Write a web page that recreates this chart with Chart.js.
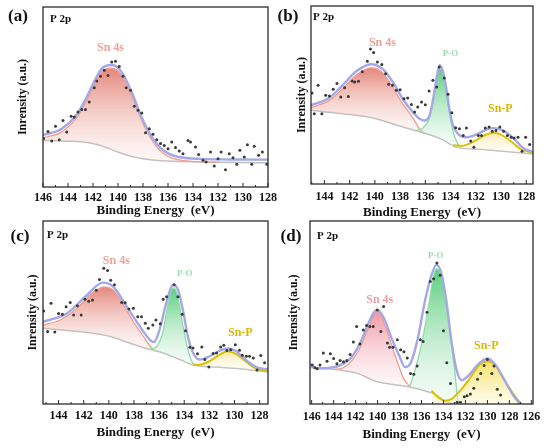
<!DOCTYPE html>
<html>
<head>
<meta charset="utf-8">
<script src="https://cdn.jsdelivr.net/npm/chart.js@4.4.1/dist/chart.umd.min.js"></script>
<style>
  html, body { margin: 0; padding: 0; background: #fff; }
  body { width: 550px; height: 448px; position: relative; overflow: hidden; }
  canvas { position: absolute; }
</style>
</head>
<body>
<canvas id="pa" width="290" height="226" style="left:0;top:0;width:290px;height:226px"></canvas>
<canvas id="pb" width="285" height="224" style="left:265px;top:0;width:285px;height:224px"></canvas>
<canvas id="pc" width="290" height="234" style="left:0;top:214px;width:290px;height:234px"></canvas>
<canvas id="pd" width="285" height="234" style="left:265px;top:214px;width:285px;height:234px"></canvas>
<script>
// binding energy (eV), intensity (0 = frame bottom, 100 = frame top)
const aTicks = [146, 144, 142, 140, 138, 136, 134, 132, 130, 128];
const bTicks = [144, 142, 140, 138, 136, 134, 132, 130, 128];
const cTicks = [144, 142, 140, 138, 136, 134, 132, 130, 128];
const dTicks = [146, 144, 142, 140, 138, 136, 134, 132, 130, 128, 126];

// (a)
const aDots = [[145.95,26.9],[145.6,30.9],[145.3,25.6],[145.0,33.7],[144.7,26.3],[144.4,37.0],[144.1,30.6],[143.75,39.3],[143.5,38.9],[143.2,41.7],[142.9,43.1],[142.6,43.1],[142.3,47.2],[141.9,55.2],[141.7,58.9],[141.4,61.5],[141.1,64.8],[140.8,62.0],[140.5,69.4],[140.2,69.8],[139.9,67.0],[139.6,61.5],[139.35,55.2],[139.0,53.7],[138.7,44.8],[138.4,42.6],[138.1,41.1],[137.8,30.2],[137.5,32.4],[137.2,29.3],[136.9,26.3],[136.6,24.1],[136.3,23.1],[136.0,21.3],[135.7,25.0],[135.4,21.9],[135.1,20.0],[134.8,18.5],[134.4,25.9],[134.2,25.0],[133.8,22.2],[133.55,18.1],[133.2,14.8],[132.95,13.9],[132.6,19.4],[132.3,11.7],[132.0,15.7],[131.75,19.4],[131.4,9.6],[131.1,18.5],[130.8,16.3],[130.5,12.6],[130.25,20.4],[129.9,16.7],[129.65,23.5],[129.3,12.6],[129.1,22.6],[128.75,17.6],[128.45,19.4],[128.1,12.6]];
const aBg = [[146,25.9],[144.5,25.5],[142.7,25.0],[141.4,23.1],[140.7,21.3],[140.0,19.4],[139.3,17.8],[138.7,16.7],[137.4,15.2],[136.0,14.4],[133.3,13.9],[130,13.6],[128,13.5]];
const aSn4s = [[146,27.4],[144.6,30.2],[143.3,38.5],[142.5,48.1],[141.8,58.3],[141.3,64.0],[140.6,66.0],[140.05,64.8],[139.5,59.6],[138.85,50.0],[138.2,38.5],[137.5,28.5],[136.8,21.5],[136.0,17.0],[135.0,14.9],[133.35,14.0],[132.0,13.7]];
const aFit = [[146,28.9],[144.6,32.0],[143.3,40.3],[142.5,50.0],[141.8,60.0],[141.3,65.8],[140.6,67.8],[140.05,66.6],[139.5,61.4],[138.85,51.8],[138.2,40.2],[137.5,30.2],[136.8,23.2],[136.0,18.7],[135.0,16.5],[133.35,15.6],[131,15.3],[128,15.2]];

// (b)
const bDots = [[144.98,51.1],[144.8,39.5],[144.5,55.5],[144.2,39.5],[143.9,49.8],[143.6,49.4],[143.3,53.2],[143.0,56.4],[142.7,48.9],[142.4,54.1],[142.1,49.2],[141.8,57.9],[141.6,57.3],[141.3,57.7],[141.0,63.0],[140.6,69.0],[140.35,75.8],[140.1,73.9],[139.8,68.6],[139.45,67.1],[139.15,62.0],[138.9,56.0],[138.6,55.5],[138.3,52.6],[138.0,53.0],[137.7,47.9],[137.4,48.3],[137.1,44.7],[136.85,40.4],[136.6,43.2],[136.3,46.1],[136.0,44.5],[135.7,52.3],[135.4,58.3],[135.1,54.5],[134.9,65.8],[134.5,59.6],[134.2,50.4],[133.9,40.0],[133.6,31.6],[133.3,31.0],[133.0,27.3],[132.75,31.4],[132.4,24.1],[132.15,20.7],[131.8,27.3],[131.55,27.3],[131.25,31.4],[130.95,32.0],[130.7,29.7],[130.4,30.1],[130.1,32.0],[129.8,29.7],[129.5,27.3],[129.2,26.3],[128.97,25.8],[128.66,26.3],[128.34,18.4],[128.05,26.3],[127.73,22.2]];
const bBg = [[145.06,41.4],[142.55,39.5],[139.9,36.7],[138.6,33.8],[137.25,31.0],[135.9,28.2],[134.6,24.8],[133.55,20.7],[131.96,19.7],[129.85,18.4],[127.47,16.9]];
const bSn4s = [[145.06,42.9],[143.6,47.0],[142.55,53.6],[141.5,61.1],[140.7,64.5],[140.3,65.2],[139.77,64.5],[139.37,62.4],[138.58,54.5],[137.8,45.1],[136.99,37.2],[136.46,31.0],[136.06,28.5]];
const bPO = [[136.86,29.9],[136.2,31.5],[135.7,36.5],[135.4,46.0],[135.14,57.0],[134.87,64.8],[134.6,61.5],[134.34,52.0],[134.08,39.5],[133.81,29.5],[133.5,23.5],[133.25,20.6]];
const bSnP = [[133.81,21.8],[133.1,21.5],[132.4,23.0],[131.7,25.8],[131.17,27.8],[130.64,28.8],[130.1,28.0],[129.6,26.0],[129.05,23.0],[128.5,19.8],[127.47,17.4]];
const bFit = [[145.06,44.2],[143.6,48.5],[142.55,55.5],[141.5,63.2],[140.3,67.3],[139.37,64.5],[138.58,57.3],[137.8,47.9],[136.99,40.4],[136.46,36.7],[136.06,35.7],[135.67,38.5],[135.4,47.0],[135.14,58.3],[134.87,66.7],[134.6,63.0],[134.34,53.6],[134.08,41.4],[133.81,32.9],[133.42,28.2],[132.75,26.3],[131.96,27.8],[131.17,30.6],[130.64,31.4],[129.85,30.1],[129.05,25.9],[128.26,20.3],[127.47,17.9]];

// (c)
const cDots = [[145.19,50.8],[144.87,39.6],[144.6,55.0],[144.3,39.3],[144.0,49.5],[143.7,49.0],[143.4,53.2],[143.07,55.5],[142.8,48.6],[142.5,53.7],[142.2,48.6],[141.9,57.3],[141.6,56.2],[141.3,56.8],[141.0,62.2],[140.75,68.1],[140.4,74.2],[140.1,73.0],[139.85,67.6],[139.55,65.2],[138.97,55.5],[138.7,55.3],[138.4,51.9],[138.05,52.3],[137.7,47.7],[137.4,47.7],[137.1,44.1],[136.86,41.4],[136.5,43.2],[136.25,45.9],[135.9,43.8],[135.67,57.3],[135.4,58.6],[134.8,65.2],[134.5,58.6],[134.16,49.0],[133.9,40.0],[133.55,31.0],[133.3,30.6],[132.94,27.4],[132.6,31.2],[132.36,24.3],[132.04,20.2],[131.7,27.6],[131.43,27.9],[131.1,31.2],[130.85,32.1],[130.6,29.2],[130.3,29.7],[129.93,32.4],[129.6,29.4],[129.37,26.7],[129.05,26.1],[128.8,26.1],[128.5,25.2],[128.2,18.6],[127.9,26.5],[127.6,22.5]];
const cBg = [[145.24,41.4],[142.0,39.3],[139.9,36.9],[138.58,33.9],[137.0,30.3],[135.67,27.9],[134.34,24.3],[133.28,21.3],[131.43,20.2],[129.58,19.3],[127.33,17.5]];
const cSn4s = [[145.24,43.2],[143.87,45.9],[142.55,52.3],[141.49,59.8],[140.69,63.4],[140.43,64.0],[139.63,62.2],[138.84,54.1],[138.05,45.0],[137.25,36.9],[136.59,30.6],[136.33,29.1]];
const cPO = [[136.73,29.9],[136.2,31.3],[135.93,34.5],[135.67,40.0],[135.4,50.5],[135.14,59.5],[134.87,63.4],[134.6,61.0],[134.34,52.5],[134.08,42.0],[133.68,29.0],[133.29,22.0],[133.0,21.0]];
const cSnP = [[133.29,21.4],[132.76,21.5],[131.96,23.5],[131.17,27.0],[130.56,28.8],[129.85,27.3],[129.05,23.0],[128.26,19.2],[127.33,18.0]];
const cFit = [[145.24,44.9],[143.34,49.5],[141.75,59.5],[140.48,66.3],[139.63,64.0],[138.58,53.2],[137.52,42.3],[136.73,35.1],[136.4,33.9],[135.93,41.4],[135.4,55.9],[134.87,65.2],[134.48,62.2],[134.08,50.5],[133.68,36.0],[133.29,27.9],[132.76,24.3],[131.96,26.1],[131.17,29.2],[130.5,30.3],[129.85,28.8],[129.05,23.8],[128.26,20.2],[127.33,18.9]];

// (d)
const dDots = [[145.94,21.3],[145.7,19.8],[145.5,19.3],[145.24,21.3],[144.94,27.9],[144.6,23.4],[144.3,27.4],[144.0,24.9],[143.7,22.0],[143.4,23.8],[143.1,23.1],[142.8,23.8],[142.5,27.0],[142.2,33.9],[141.9,42.3],[141.6,32.8],[141.3,40.5],[141.0,42.9],[140.7,42.3],[140.4,42.3],[140.03,51.4],[139.7,39.6],[139.45,53.3],[139.1,33.3],[138.9,31.0],[138.6,31.0],[138.2,35.1],[137.9,29.7],[137.6,28.5],[137.3,25.2],[137.0,16.6],[136.7,16.2],[136.4,20.7],[136.1,35.1],[135.85,34.2],[135.5,50.1],[135.2,67.0],[134.9,68.5],[134.6,77.1],[134.3,70.3],[134.0,40.0],[133.7,22.5],[133.36,11.2],[132.76,0.9],[132.45,0.9],[132.1,4.0],[131.85,4.5],[131.55,5.4],[131.24,8.6],[130.9,13.5],[130.6,16.6],[130.3,21.1],[130.0,24.3],[129.6,16.6],[129.4,20.7],[129.1,8.1],[128.8,4.9]];
const dBg = [[146.15,19.8],[144.79,19.3],[143.27,18.4],[141.76,16.6],[140.24,12.6],[138.73,10.8],[137.21,9.4],[135.7,7.2],[134.79,5.4],[133.88,1.8],[132.97,0.0],[132.06,-0.9]];
const dSn4s = [[143.88,18.9],[143.27,19.5],[142.67,21.6],[141.76,28.8],[140.85,41.4],[140.24,49.5],[140.09,50.1],[139.79,49.5],[139.33,43.2],[138.73,32.4],[138.12,21.6],[137.67,14.4],[137.21,10.5],[137.06,9.5]];
const dPO = [[137.06,9.5],[136.61,18.0],[136.0,32.4],[135.39,52.3],[134.94,68.5],[134.64,73.9],[134.18,69.4],[133.73,54.1],[133.27,32.4],[132.97,18.0],[132.73,3.6],[132.6,-0.9]];
const dSnP = [[135.09,7.2],[134.48,3.6],[133.88,1.8],[133.27,2.7],[132.36,8.1],[131.45,15.3],[130.7,21.6],[130.0,23.4],[129.33,21.6],[128.73,16.2],[128.12,9.9],[127.52,4.5],[126.91,0.0],[126.3,-3.6]];
const dFit = [[146.15,22.0],[145.85,20.2],[145.39,19.5],[143.88,20.2],[142.36,25.6],[141.45,35.1],[140.7,45.9],[140.09,51.4],[139.48,47.7],[138.73,36.0],[137.97,25.6],[137.52,20.2],[137.21,20.7],[136.91,23.4],[136.3,36.9],[135.7,55.9],[135.09,70.3],[134.64,76.0],[134.18,71.2],[133.73,55.9],[133.27,34.2],[132.82,18.9],[132.36,13.0],[131.76,15.3],[130.85,21.6],[130.0,24.9],[129.18,20.7],[128.42,12.6],[127.52,3.6],[126.91,-0.9]];

const SERIF = '"Liberation Serif", "Times New Roman", serif';
const PINK = '#eba39a', GREEN = '#9edcb0', GOLD = '#d9b800';

const pts = arr => arr.map(([x, y]) => ({ x, y }));

// vertical gradient from the top of the dataset down to its lowest value
function shade(top, bottom) {
  return ctx => {
    const chart = ctx.chart;
    if (!chart.chartArea) return top;
    const ys = chart.data.datasets[ctx.datasetIndex].data.map(p => p.y);
    const y = chart.scales.y;
    const g = chart.ctx.createLinearGradient(0, y.getPixelForValue(Math.max(...ys)), 0, y.getPixelForValue(Math.min(...ys)));
    g.addColorStop(0, top);
    g.addColorStop(1, bottom);
    return g;
  };
}

function curve(data, color, width, extra) {
  return Object.assign({
    data: pts(data), borderColor: color, borderWidth: width, pointRadius: 0,
    cubicInterpolationMode: 'monotone', fill: false
  }, extra || {});
}

function dots(data) {
  return { data: pts(data), showLine: false, pointRadius: 1.5, pointBackgroundColor: '#3a3a3a', pointBorderWidth: 0 };
}

const panelText = {
  id: 'panelText',
  afterDraw(chart, args, o) {
    const { ctx, chartArea: a, scales: { x, y } } = chart;
    ctx.save();
    ctx.strokeStyle = '#2b2b2b';
    ctx.lineWidth = 1.3;
    ctx.strokeRect(a.left, a.top, a.right - a.left, a.bottom - a.top);
    ctx.lineWidth = 1;
    for (let v = Math.ceil(x.min); v <= Math.floor(x.max); v++) {
      const px = x.getPixelForValue(v);
      const len = v % 2 === 0 ? 4 : 2;
      ctx.beginPath();
      ctx.moveTo(px, a.bottom);
      ctx.lineTo(px, a.bottom - len);
      ctx.stroke();
    }
    ctx.fillStyle = '#111';
    ctx.textBaseline = 'middle';
    ctx.textAlign = 'center';
    ctx.font = 'bold 17px ' + SERIF;
    ctx.fillText(o.tag, o.tagAt[0], o.tagAt[1]);
    ctx.textAlign = 'left';
    ctx.font = 'bold 11px ' + SERIF;
    ctx.fillText('P 2p', o.coreAt[0], o.coreAt[1]);
    ctx.textAlign = 'center';
    o.labels.forEach(l => {
      ctx.font = 'bold ' + l.size + 'px ' + SERIF;
      ctx.fillStyle = l.color;
      ctx.fillText(l.text, x.getPixelForValue(l.x), y.getPixelForValue(l.y));
    });
    ctx.restore();
  }
};

function panel(id, p) {
  new Chart(document.getElementById(id), {
    type: 'line',
    data: { datasets: p.datasets },
    options: {
      responsive: false,
      animation: false,
      layout: { padding: { top: p.padTop, right: p.padRight, left: 0, bottom: 0 } },
      plugins: {
        legend: { display: false },
        tooltip: { enabled: false },
        panelText: { tag: p.tag, tagAt: p.tagAt, coreAt: p.coreAt, labels: p.labels }
      },
      scales: {
        x: {
          type: 'linear', reverse: true, min: p.xMin, max: p.xMax,
          grid: { display: false, drawTicks: false },
          border: { display: false },
          ticks: { font: { family: SERIF, size: 12, weight: 'bold' }, color: '#111', padding: p.tickPad, autoSkip: false, maxRotation: 0 },
          afterBuildTicks: s => { s.ticks = p.ticks.map(v => ({ value: v })); },
          afterFit: s => { s.height = p.xHeight; },
          title: { display: true, text: 'Binding Energy  (eV)', color: '#111',
                   font: { family: SERIF, size: 13, weight: 'bold' }, padding: { top: 0, bottom: p.titlePad } }
        },
        y: {
          min: 0, max: 100,
          grid: { display: false, drawTicks: false },
          border: { display: false },
          ticks: { display: false },
          afterFit: s => { s.width = p.yWidth; },
          title: { display: true, text: 'Inrensity (a.u.)', color: '#111',
                   font: { family: SERIF, size: 12, weight: 'bold' }, padding: { top: p.yTitlePad, bottom: 0 } }
        }
      }
    },
    plugins: [panelText]
  });
}

const fitColor = '#a3a8e6', bgColor = '#bdbdbd';
const snFill = shade('rgba(226,122,110,0.9)', 'rgba(250,228,222,0.25)');
const poFill = shade('rgba(70,200,110,0.9)', 'rgba(220,245,228,0.25)');
const spFill = shade('rgba(250,230,160,0.85)', 'rgba(255,248,225,0.2)');

panel('pa', {
  xMin: 128, xMax: 146, ticks: aTicks,
  padTop: 7, padRight: 22, yWidth: 43, xHeight: 39, tickPad: 4, titlePad: 8, yTitlePad: 16,
  tag: '(a)', tagAt: [18, 17], coreAt: [50, 19],
  labels: [{ text: 'Sn 4s', x: 140.6, y: 77, color: PINK, size: 12 }],
  datasets: [
    dots(aDots),
    curve(aFit, fitColor, 2.4),
    curve(aSn4s, '#eea090', 1.3, { fill: 3, backgroundColor: snFill }),
    curve(aBg, bgColor, 1.5)
  ]
});

panel('pb', {
  xMin: 127.47, xMax: 145.06, ticks: bTicks,
  padTop: 6, padRight: 17, yWidth: 46, xHeight: 40, tickPad: 6, titlePad: 4, yTitlePad: 30,
  tag: '(b)', tagAt: [23, 17], coreAt: [48, 17],
  labels: [
    { text: 'Sn 4s', x: 139.4, y: 79, color: PINK, size: 12 },
    { text: 'P-O', x: 134.0, y: 73, color: GREEN, size: 9 },
    { text: 'Sn-P', x: 130.06, y: 42, color: GOLD, size: 12 }
  ],
  datasets: [
    dots(bDots),
    curve(bFit, fitColor, 2.4),
    curve(bSnP, '#dcc000', 2, { fill: 5, backgroundColor: spFill }),
    curve(bPO, '#8fdca6', 1.3, { fill: 5, backgroundColor: poFill }),
    curve(bSn4s, '#eea090', 1.3, { fill: 5, backgroundColor: snFill }),
    curve(bBg, bgColor, 1.5)
  ]
});

panel('pc', {
  xMin: 127.33, xMax: 145.24, ticks: cTicks,
  padTop: 7, padRight: 22, yWidth: 43, xHeight: 44, tickPad: 5, titlePad: 8, yTitlePad: 26,
  tag: '(c)', tagAt: [20, 23], coreAt: [47, 21],
  labels: [
    { text: 'Sn 4s', x: 139.4, y: 78, color: PINK, size: 12 },
    { text: 'P-O', x: 133.95, y: 71, color: GREEN, size: 9 },
    { text: 'Sn-P', x: 129.53, y: 39, color: GOLD, size: 12 }
  ],
  datasets: [
    dots(cDots),
    curve(cFit, fitColor, 2.4),
    curve(cSnP, '#dcc000', 2, { fill: 5, backgroundColor: spFill }),
    curve(cPO, '#8fdca6', 1.3, { fill: 5, backgroundColor: poFill }),
    curve(cSn4s, '#eea090', 1.3, { fill: 5, backgroundColor: snFill }),
    curve(cBg, bgColor, 1.5)
  ]
});

panel('pd', {
  xMin: 125.85, xMax: 146.15, ticks: dTicks,
  padTop: 7, padRight: 17, yWidth: 45, xHeight: 44, tickPad: 6, titlePad: 6, yTitlePad: 22,
  tag: '(d)', tagAt: [26, 23], coreAt: [52, 22],
  labels: [
    { text: 'Sn 4s', x: 139.8, y: 57, color: '#ec9ea6', size: 12 },
    { text: 'P-O', x: 134.7, y: 81, color: GREEN, size: 9 },
    { text: 'Sn-P', x: 130.1, y: 32, color: GOLD, size: 12 }
  ],
  datasets: [
    dots(dDots),
    curve(dFit, fitColor, 2.4),
    curve(dSnP, '#dcc000', 2, { fill: 'origin', backgroundColor: shade('rgba(245,222,80,0.9)', 'rgba(255,248,215,0.3)') }),
    curve(dPO, '#8fdca6', 1.3, { fill: 5, backgroundColor: poFill }),
    curve(dSn4s, '#eea090', 1.3, { fill: 5, backgroundColor: shade('rgba(236,135,150,0.85)', 'rgba(252,225,230,0.25)') }),
    curve(dBg, bgColor, 1.5)
  ]
});
</script>
</body>
</html>
